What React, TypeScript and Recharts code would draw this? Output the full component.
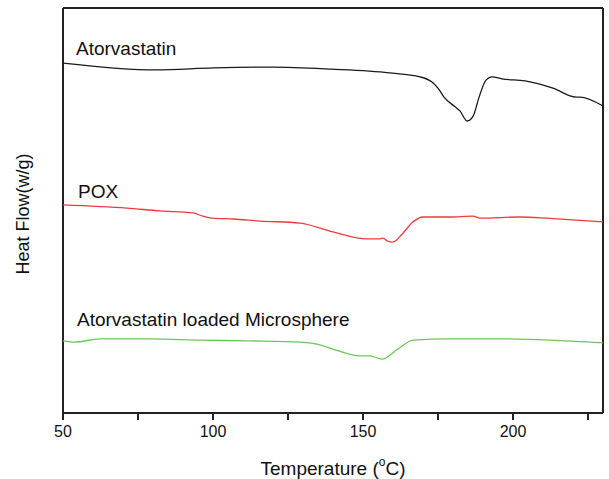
import { LineChart, Line, XAxis, YAxis, ReferenceLine } from "recharts";

// DSC thermograms, heat flow in arbitrary units (curves stacked)
const atorTemp = [50, 81, 100.3, 119.7, 139.3, 158.7, 169, 173, 175, 177, 180.7, 182.3, 184.7, 186.7, 188.7, 191, 193, 196.3, 204, 213.3, 221, 222.3, 230];
const atorFlow = [86.4, 84.7, 85.2, 85.4, 84.9, 84.0, 83.0, 81.7, 80.2, 78.0, 75.6, 74.6, 72.1, 73.3, 78.0, 82.2, 83.0, 82.5, 82.0, 80.2, 78.0, 78.0, 75.8];

const poxTemp = [50, 71.3, 82.3, 93.3, 96.7, 100, 106.7, 115.7, 129, 140, 151.3, 155.7, 156.7, 158, 160, 163.3, 166.7, 170, 179, 186.7, 189, 202.3, 211.3, 219.7, 230];
const poxFlow = [51.4, 50.6, 49.9, 49.4, 48.6, 48.1, 47.9, 47.4, 46.9, 44.7, 43.0, 43.0, 43.2, 42.5, 42.2, 44.4, 47.2, 48.4, 48.4, 48.6, 48.1, 48.4, 48.1, 47.7, 47.2];

const microTemp = [50, 54, 62.3, 79, 95.7, 112.3, 129, 134.7, 140.7, 149, 152.3, 156.3, 161.3, 166.7, 179, 195.7, 212.3, 230];
const microFlow = [17.8, 17.5, 18.3, 18.3, 18.0, 17.8, 17.5, 17.0, 15.6, 14.1, 14.1, 13.3, 15.6, 18.0, 18.3, 18.3, 18.0, 17.3];

const xTicks = [50, 75, 100, 125, 150, 175, 200, 225];
const xDomain: [number, number] = [50, 230];
const yDomain: [number, number] = [0, 100];

const toRows = (temps: number[], flows: number[]) =>
  temps.map((t, i) => ({ temp: t, flow: flows[i] }));

const font = "'Liberation Sans', Arial, sans-serif";
const axisColor = "#222";

export default function App() {
  return (
    <div style={{ position: "absolute", left: 0, top: 0, width: 609, height: 479, background: "#fff", fontFamily: font }}>
      <LineChart width={609} height={479} margin={{ top: 8, right: 6, left: 63, bottom: 0 }}>
        <XAxis
          type="number"
          dataKey="temp"
          domain={xDomain}
          ticks={xTicks}
          interval={0}
          allowDataOverflow
          height={66}
          tickSize={7}
          tickMargin={6}
          tickFormatter={(v: number) => (v % 50 === 0 ? String(v) : "")}
          axisLine={{ stroke: axisColor, strokeWidth: 2 }}
          tickLine={{ stroke: axisColor, strokeWidth: 2 }}
          tick={{ fill: "#111", fontSize: 16, fontFamily: font }}
        />
        <YAxis type="number" domain={yDomain} width={0} tick={false} tickLine={false} axisLine={false} allowDataOverflow />
        {/* frame */}
        <ReferenceLine x={xDomain[0]} stroke={axisColor} strokeWidth={2} />
        <ReferenceLine x={xDomain[1]} stroke={axisColor} strokeWidth={2} />
        <ReferenceLine y={yDomain[1]} stroke={axisColor} strokeWidth={2} />
        <Line data={toRows(atorTemp, atorFlow)} dataKey="flow" type="monotone" stroke="#1a1a1a" strokeWidth={1.3} dot={false} isAnimationActive={false} />
        <Line data={toRows(poxTemp, poxFlow)} dataKey="flow" type="monotone" stroke="#f03a3a" strokeWidth={1.3} dot={false} isAnimationActive={false} />
        <Line data={toRows(microTemp, microFlow)} dataKey="flow" type="monotone" stroke="#6cc757" strokeWidth={1.3} dot={false} isAnimationActive={false} />
      </LineChart>
      <svg width={609} height={479} style={{ position: "absolute", left: 0, top: 0, pointerEvents: "none" }}>
        <g fontFamily={font} fill="#111">
          <text x={76} y={55} fontSize={19}>Atorvastatin</text>
          <text x={78} y={198} fontSize={19}>POX</text>
          <text x={77} y={326} fontSize={19}>Atorvastatin loaded Microsphere</text>
          <text x={333} y={475} fontSize={19} textAnchor="middle">
            Temperature (<tspan fontSize={12} dy={-9}>o</tspan><tspan dy={9}>C)</tspan>
          </text>
          <text x={29} y={214} fontSize={18} textAnchor="middle" transform="rotate(-90 29 214)">Heat Flow(w/g)</text>
        </g>
      </svg>
    </div>
  );
}
